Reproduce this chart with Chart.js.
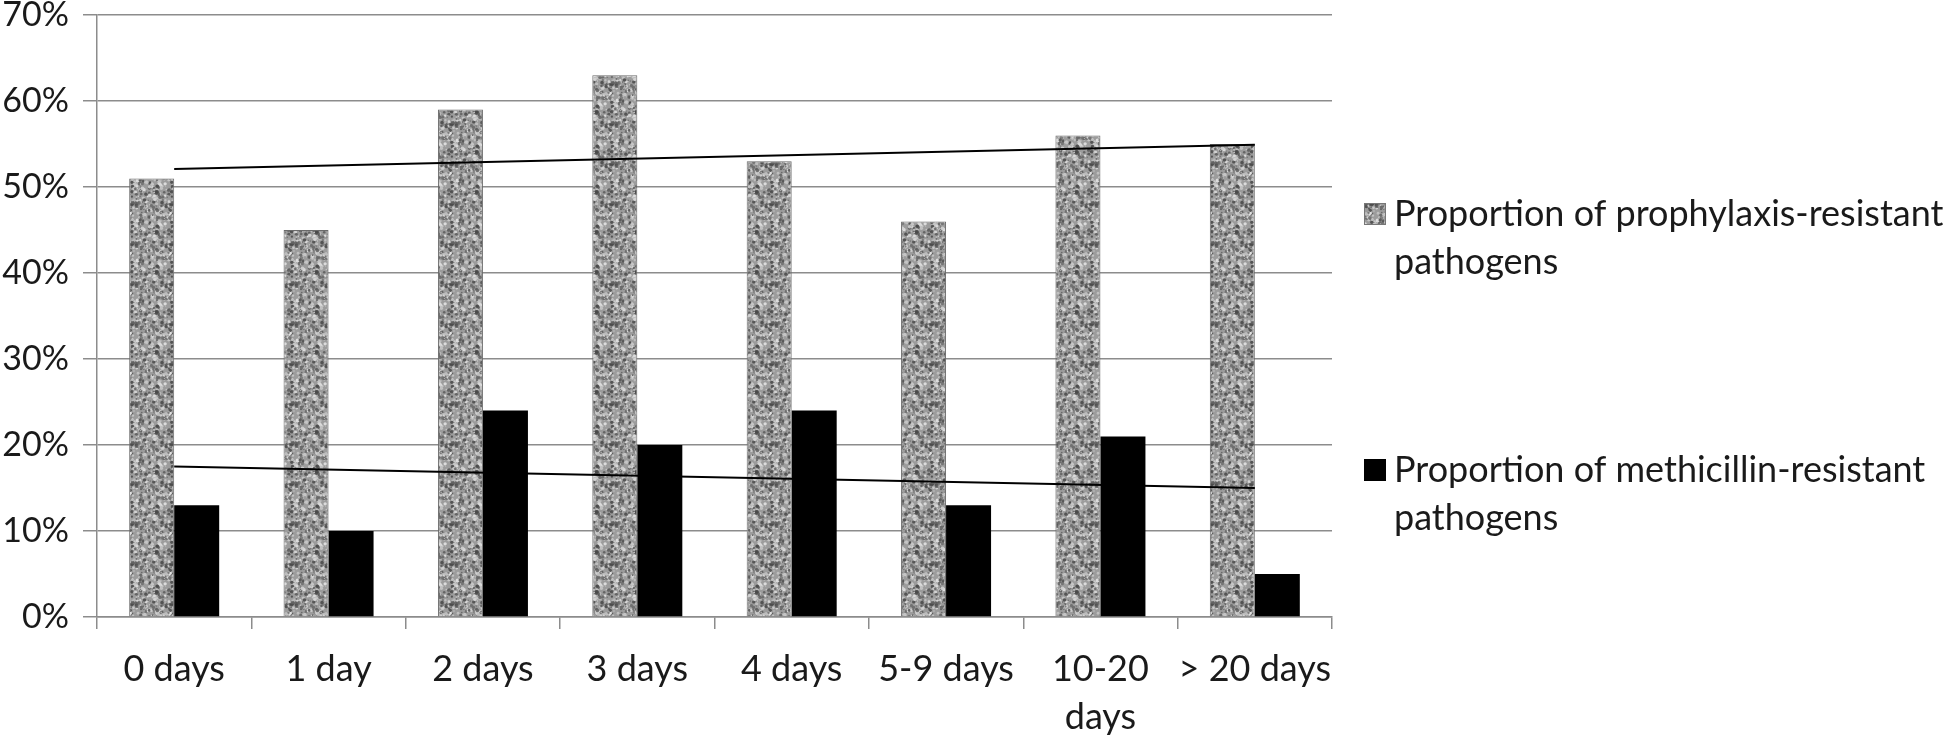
<!DOCTYPE html>
<html>
<head>
<meta charset="utf-8">
<style>
html,body{margin:0;padding:0;background:#fff;}
#wrap{width:1946px;height:736px;}
</style>
<script src="https://cdn.jsdelivr.net/npm/chart.js@4.4.1/dist/chart.umd.min.js"></script>
</head>
<body>
<div id="wrap"><canvas id="c" width="1946" height="736"></canvas></div>
<script>
// ---- data ----
const categories = ['0 days', '1 day', '2 days', '3 days', '4 days', '5-9 days', ['10-20', 'days'], '> 20 days'];
const prophylaxisResistant = [51, 45, 59, 63, 53, 46, 56, 55];
const methicillinResistant = [13, 10, 24, 20, 24, 13, 21, 5];
// linear trend lines (start and end values)
const prophylaxisTrend = [52.1, null, null, null, null, null, null, 54.9];
const methicillinTrend = [17.5, null, null, null, null, null, null, 15.0];
const seriesLabels = [
  ['Proportion of prophylaxis-resistant', 'pathogens'],
  ['Proportion of methicillin-resistant', 'pathogens']
];
const yTicks = [0, 10, 20, 30, 40, 50, 60, 70];

// ---- grey mottled texture for the first series (deterministic) ----
function makeTexture() {
  const N = 40;
  const t = document.createElement('canvas');
  t.width = N; t.height = N;
  const g = t.getContext('2d');
  g.fillStyle = '#9c9c9c';
  g.fillRect(0, 0, N, N);
  let s = 987654;
  const rnd = () => { s = (s * 1103515245 + 12345) & 0x7fffffff; return s / 0x7fffffff; };
  for (let i = 0; i < 280; i++) {
    const x = rnd() * N, y = rnd() * N, r = 0.5 + rnd() * 1.4;
    const dark = rnd() < 0.5;
    const v = dark ? Math.floor(70 + rnd() * 45) : Math.floor(185 + rnd() * 50);
    g.fillStyle = `rgba(${v},${v},${v},0.85)`;
    for (const dx of [-N, 0, N]) for (const dy of [-N, 0, N]) {
      g.beginPath(); g.arc(x + dx, y + dy, r, 0, Math.PI * 2); g.fill();
    }
  }
  return g.createPattern(t, 'repeat');
}
const ctx = document.getElementById('c').getContext('2d');
const texture = makeTexture();

const FONT = "Lato, 'Liberation Sans', sans-serif";
const GRID = '#8c8c8c';

const legendPlugin = {
  id: 'sideLegend',
  afterDraw(chart) {
    const c = chart.ctx;
    const items = [
      { fill: texture, stroke: '#777', y: 214, lines: seriesLabels[0] },
      { fill: '#000', stroke: '#000', y: 470, lines: seriesLabels[1] }
    ];
    c.save();
    c.font = `36px ${FONT}`;
    c.textBaseline = 'middle';
    c.textAlign = 'left';
    for (const it of items) {
      c.fillStyle = it.fill;
      c.fillRect(1364, it.y - 11, 22, 22);
      c.strokeStyle = it.stroke;
      c.lineWidth = 1;
      c.strokeRect(1364.5, it.y - 10.5, 21, 21);
      c.fillStyle = '#1a1a1a';
      it.lines.forEach((ln, i) => c.fillText(ln, 1394, it.y + i * 48));
    }
    c.restore();
  }
};

new Chart(ctx, {
  data: {
    labels: categories,
    datasets: [
      { type: 'line', data: prophylaxisTrend, borderColor: '#000', borderWidth: 2, pointRadius: 0, spanGaps: true, order: 0 },
      { type: 'line', data: methicillinTrend, borderColor: '#000', borderWidth: 2, pointRadius: 0, spanGaps: true, order: 0 },
      { type: 'bar', label: seriesLabels[0].join(' '), data: prophylaxisResistant, backgroundColor: texture, borderColor: '#6a6a6a', borderWidth: 1, categoryPercentage: 0.583, barPercentage: 1.0, order: 1 },
      { type: 'bar', label: seriesLabels[1].join(' '), data: methicillinResistant, backgroundColor: '#000', borderColor: '#000', borderWidth: 0, categoryPercentage: 0.583, barPercentage: 1.0, order: 1 }
    ]
  },
  options: {
    responsive: false,
    animation: false,
    layout: { padding: { left: 0, top: 15, right: 614, bottom: 0 } },
    plugins: { legend: { display: false }, tooltip: { enabled: false } },
    scales: {
      x: {
        offset: true,
        grid: { offset: true, drawOnChartArea: false, drawTicks: true, tickLength: 12, color: GRID, lineWidth: 1.5 },
        border: { color: GRID, width: 1.5 },
        ticks: { autoSkip: false, maxRotation: 0, minRotation: 0, padding: 16, color: '#1a1a1a', font: { family: FONT, size: 36, lineHeight: 1.333 } },
        afterFit(s) { s.height = 119; s.paddingLeft = 0; s.paddingRight = 0; }
      },
      y: {
        min: 0, max: 70,
        afterBuildTicks(s) { s.ticks = yTicks.map(v => ({ value: v })); },
        grid: { color: GRID, lineWidth: 1.5, tickLength: 14 },
        border: { color: GRID, width: 1.5 },
        ticks: { padding: 14, color: '#1a1a1a', font: { family: FONT, size: 34, lineHeight: 0.88 }, callback: v => v + '%' },
        afterFit(s) { s.width = 97; s.paddingTop = 0; s.paddingBottom = 0; }
      }
    }
  },
  plugins: [legendPlugin]
});
</script>
</body>
</html>
